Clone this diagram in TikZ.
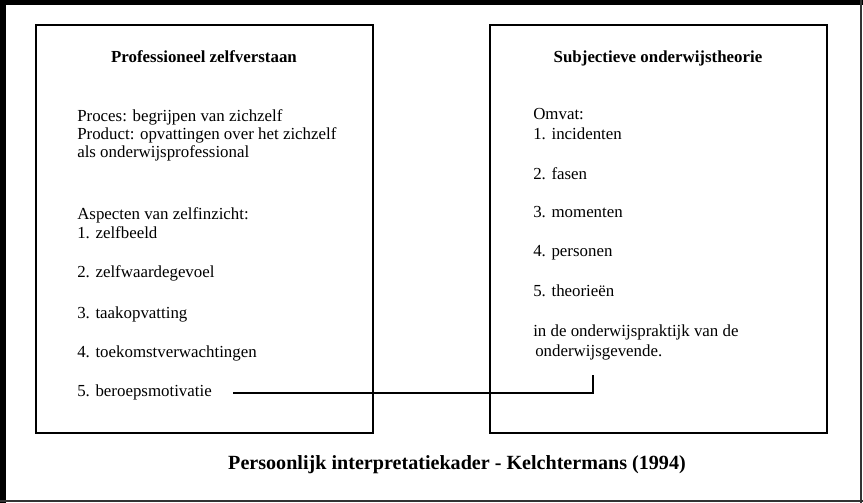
\documentclass[tikz,border=0pt]{standalone}
\usepackage{fontspec}
\setmainfont{Liberation Serif}
\begin{document}
\begin{tikzpicture}[x=0.025cm, y=-0.025cm,
  every node/.style={font=\fontsize{12}{14}\selectfont, inner sep=0pt},
  kader/.style={draw, line width=1pt, minimum width=8.425cm, minimum height=10.2cm},
  kop/.style={font=\fontsize{12}{14}\selectfont\bfseries, anchor=base},
  regel/.style={anchor=base west}]
\useasboundingbox (0,0) rectangle (863,503);
% buitenrand
\fill[black] (0,0) rectangle (6,503);
\fill[black] (0,0) rectangle (863,5);
\draw[line width=1.4pt, black!80] (861,0) -- (861,503);
\draw[line width=1.4pt, black!80] (0,501) -- (863,501);
% twee kaders
\node[kader] (links) at (204.5,229) {};
\node[kader] (rechts) at (658.5,229) {};
\node[kop] (tl) at (204,63) {Professioneel zelfverstaan};
\node[kop] (tr) at (658,63) {Subjectieve onderwijstheorie};
% linker tekst
\node[regel] (proces) at (77,122) {Proces: begrijpen van zichzelf};
\node[regel] (product) at (77,140) {Product: opvattingen over het zichzelf};
\node[regel] (als) at (77,158) {als onderwijsprofessional};
\node[regel] (asp) at (77,220) {Aspecten van zelfinzicht:};
\node[regel] (l1) at (77,239) {1. zelfbeeld};
\node[regel] (l2) at (77,278) {2. zelfwaardegevoel};
\node[regel] (l3) at (77,319) {3. taakopvatting};
\node[regel] (l4) at (77,358) {4. toekomstverwachtingen};
\node[regel] (l5) at (77,397) {5. beroepsmotivatie};
% rechter tekst
\node[regel] (omvat) at (533,120) {Omvat:};
\node[regel] (r1) at (533,140) {1. incidenten};
\node[regel] (r2) at (533,180) {2. fasen};
\node[regel] (r3) at (533,218) {3. momenten};
\node[regel] (r4) at (533,257) {4. personen};
\node[regel] (r5) at (533,297) {5. theorieën};
\node[regel] (praktijk) at (533,337) {in de onderwijspraktijk van de};
\node[regel] (gevende) at (535,357) {onderwijsgevende.};
% verbinding
\coordinate (van) at (233,393);
\coordinate (naar) at (593,375);
\draw[line width=0.9pt] (van) -| (naar);
% onderschrift
\node[kop, font=\fontsize{14.3}{16}\selectfont\bfseries] (bron) at (457,470) {Persoonlijk interpretatiekader - Kelchtermans (1994)};
\end{tikzpicture}
\end{document}
